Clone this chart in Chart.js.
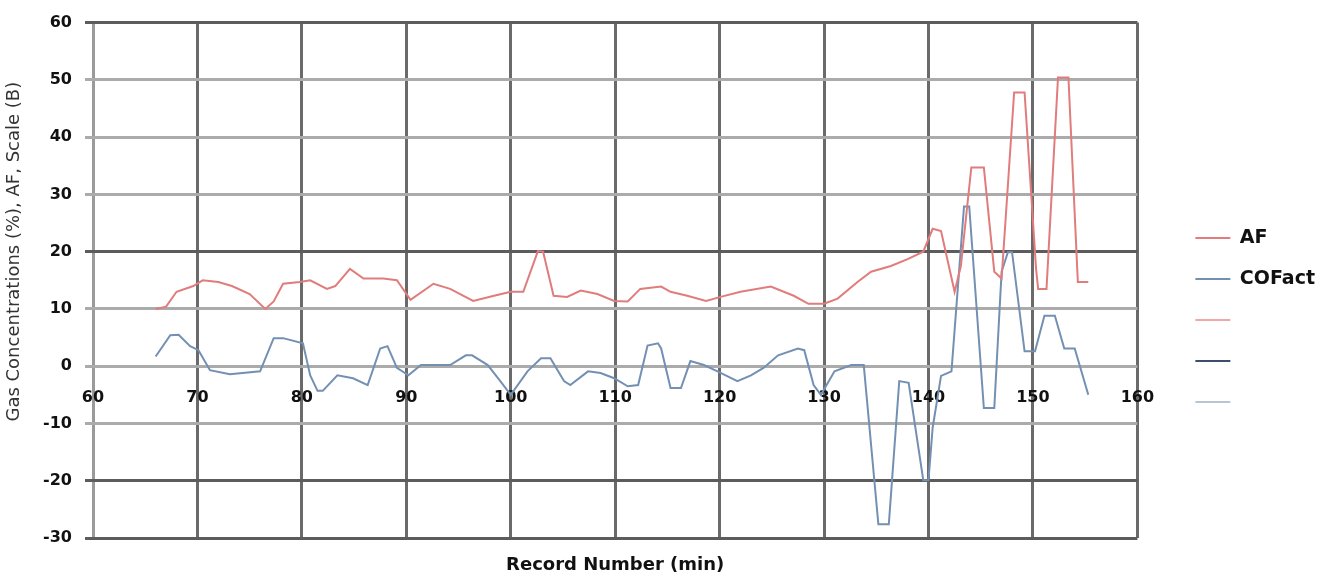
<!DOCTYPE html>
<html>
<head>
<meta charset="utf-8">
<script src="https://cdn.jsdelivr.net/npm/chart.js@4.4.1/dist/chart.umd.min.js"></script>
<style>
  html, body { margin: 0; padding: 0; background: #fff; }
</style>
</head>
<body>
<canvas id="graficoGas" width="1333" height="580"></canvas>
<script>
// valores (minuto do registo -> valor)
const afMinutos = [66, 67, 68, 69.6, 70.5, 72, 73.3, 75, 76.5, 77.3, 78.2, 79.8, 80.8, 82.4, 83.2, 84.6, 85.9, 87.8, 89.1, 90.4,
  92.6, 94.2, 96.4, 98.4, 100, 101.2, 102.6, 103.1, 104.1, 105.4, 106.7, 108.3, 109.9, 111.2, 112.4, 114.4, 115.3, 116.9, 118.7, 120.1,
  122, 124.9, 127.1, 128.5, 130, 131.3, 133.2, 134.5, 136.4, 138, 139.5, 140.4, 141.2, 142.5, 143.1, 144.1, 145.3, 146.3, 147, 148.2,
  149.2, 150.3, 150.5, 151.3, 152.4, 153.4, 154.3, 155.3];
const afValores = [10, 10.4, 13, 14, 15, 14.7, 14, 12.6, 10, 11.3, 14.4, 14.7, 15, 13.5, 14, 17, 15.3, 15.3, 15, 11.6,
  14.4, 13.5, 11.4, 12.3, 13, 13, 20.1, 20, 12.3, 12.1, 13.2, 12.6, 11.4, 11.3, 13.5, 13.9, 13, 12.3, 11.4, 12.1,
  13, 13.9, 12.3, 10.9, 10.9, 11.8, 14.7, 16.5, 17.5, 18.7, 20, 24, 23.6, 13, 17.5, 34.7, 34.7, 16.5, 15.3, 47.8,
  47.8, 17, 13.5, 13.5, 50.4, 50.4, 14.7, 14.7];

const coMinutos = [66, 67.4, 68.2, 69.3, 70.1, 71.2, 73.1, 76, 77.3, 78.2, 80.1, 80.8, 81.5, 82, 83.4, 84.9, 86.3, 87.5, 88.2, 89.1,
  90.2, 91.4, 94.2, 95.7, 96.3, 97.8, 99, 100, 101.6, 102.9, 103.8, 105.1, 105.7, 107.4, 108.6, 109.9, 111.2, 112.2, 113.1, 114.1,
  114.4, 115.3, 116.3, 117.2, 118.5, 119.8, 121.7, 123, 124.2, 125.6, 127.5, 128.1, 129, 129.7, 131, 132.6, 133.8, 135.2, 136.2, 137.2,
  138.1, 139.5, 140, 140.4, 141.2, 142.2, 142.8, 143.4, 143.9, 145.3, 146.3, 147, 147.6, 148, 149.2, 150.2, 151.1, 152.1, 153, 154, 155.3];
const coValores = [1.7, 5.4, 5.5, 3.5, 2.8, -0.7, -1.4, -0.9, 4.9, 4.9, 4, -1.6, -4.3, -4.3, -1.6, -2.1, -3.3, 3.1, 3.5, -0.3,
  -1.6, 0.2, 0.2, 1.9, 1.9, 0.2, -2.6, -5, -0.9, 1.4, 1.4, -2.6, -3.3, -0.9, -1.2, -2.1, -3.5, -3.3, 3.6, 4,
  3.1, -3.8, -3.8, 0.9, 0.2, -0.9, -2.6, -1.6, -0.3, 1.9, 3.1, 2.8, -3.3, -5, -0.9, 0.2, 0.2, -27.6, -27.6, -2.6,
  -2.9, -19.9, -19.9, -10.7, -1.7, -0.9, 13.5, 27.9, 27.9, -7.3, -7.3, 16.5, 19.9, 19.9, 2.6, 2.6, 8.8, 8.8, 3.1, 3.1, -5];

const seriesNomes = ['AF', 'COFact', '', '', ''];
const seriesCores = ['#e07c7c', '#7390b3', '#f2a6a6', '#3d4d6b', '#b9c5d6'];

const eixoX = { min: 60, max: 160, passo: 10 };
const eixoY = { min: -30, max: 60, passo: 10 };
const linhasEscuras = [60, 20, -20, -30];

function pontos(xs, ys) {
  return xs.map((x, i) => ({ x: x, y: ys[i] }));
}

const fonte = 'DejaVu Sans';

const datasets = seriesNomes.map((nome, i) => ({
  label: nome,
  data: i === 0 ? pontos(afMinutos, afValores) : (i === 1 ? pontos(coMinutos, coValores) : []),
  borderColor: seriesCores[i],
  backgroundColor: seriesCores[i],
  borderWidth: 2,
  pointRadius: 0,
  tension: 0,
  fill: false
}));

const ctx = document.getElementById('graficoGas').getContext('2d');
new Chart(ctx, {
  type: 'line',
  data: { datasets: datasets },
  options: {
    responsive: false,
    animation: false,
    layout: { padding: { top: 18, right: 8, bottom: 0, left: 0 } },
    plugins: {
      tooltip: { enabled: false },
      legend: {
        position: 'right',
        title: { display: true, text: ' ', font: { size: 10 }, padding: 15 },
        labels: {
          usePointStyle: true,
          pointStyle: 'line',
          pointStyleWidth: 35,
          padding: 22,
          color: '#111',
          font: { family: fonte, size: 19, weight: 'bold' }
        }
      }
    },
    scales: {
      x: {
        type: 'linear',
        position: { y: 0 },
        min: eixoX.min, max: eixoX.max,
        border: { display: false },
        grid: {
          drawTicks: false,
          lineWidth: 3,
          color: c => (c.tick && c.tick.value === 60 ? '#9a9a9a' : '#6a6a6a')
        },
        ticks: {
          stepSize: eixoX.passo,
          padding: 22,
          color: '#111',
          font: { family: fonte, size: 16, weight: 'bold' }
        }
      },
      xt: {
        type: 'linear',
        position: 'bottom',
        min: eixoX.min, max: eixoX.max,
        border: { display: false },
        grid: { display: false, drawTicks: false },
        ticks: { display: false },
        title: {
          display: true,
          text: 'Record Number (min)',
          color: '#111',
          padding: { top: 0, bottom: 4 },
          font: { family: fonte, size: 18, weight: 'bold' }
        },
        afterFit: s => { s.height = 42; }
      },
      y: {
        type: 'linear',
        position: 'left',
        min: eixoY.min, max: eixoY.max,
        border: { display: false },
        grid: {
          lineWidth: 3,
          tickLength: 8,
          color: c => (c.tick && linhasEscuras.includes(c.tick.value) ? '#5c5c5c' : '#ababab')
        },
        ticks: {
          stepSize: eixoY.passo,
          padding: 13,
          color: '#111',
          font: { family: fonte, size: 16, weight: 'bold' }
        },
        title: {
          display: true,
          text: '          Gas Concentrations (%), AF, Scale (B)',
          color: '#333',
          padding: { top: 4, bottom: 0 },
          font: { family: fonte, size: 18 }
        },
        afterFit: s => { s.width = 93; }
      },
      yr: {
        type: 'linear',
        position: 'right',
        min: eixoY.min, max: eixoY.max,
        border: { display: false },
        grid: { display: false, drawTicks: false },
        ticks: { display: false },
        afterFit: s => { s.width = 36; }
      }
    }
  }
});
</script>
</body>
</html>
